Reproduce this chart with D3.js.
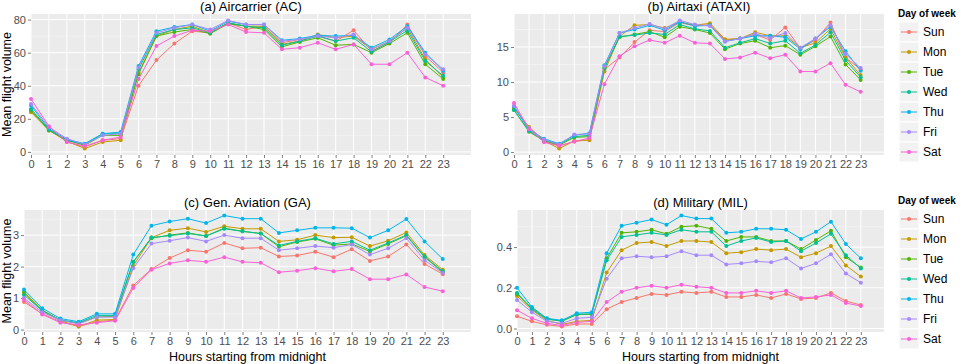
<!DOCTYPE html>
<html>
<head>
<meta charset="utf-8">
<script src="https://cdn.jsdelivr.net/npm/d3@7"></script>
<style>
	body { margin: 0; background: #fff; }
	svg { display: block; font-family: 'Liberation Sans', Arial, sans-serif; }
</style>
</head>
<body>
<div id="app"></div>
<script>
// categories
const days = ['Sun', 'Mon', 'Tue', 'Wed', 'Thu', 'Fri', 'Sat'];
const hours = [0, 1, 2, 3, 4, 5, 6, 7, 8, 9, 10, 11, 12, 13, 14, 15, 16, 17, 18, 19, 20, 21, 22, 23];
const dayColors = ['#F8766D', '#C49A00', '#53B400', '#00C094', '#00B6EB', '#A58AFF', '#FB61D7'];

// mean flight volume per hour, one row per day (Sun..Sat)
const acVolume = [
	[25, 14, 6, 3, 7, 8, 40, 55.5, 65.5, 73, 72, 78, 74, 76, 66, 68, 70, 67, 73.5, 61, 66, 77, 58, 48],
	[24, 13, 6.5, 2, 6, 7, 48, 70, 74, 76, 72, 78, 76, 76, 65, 67, 71, 69, 70, 62, 67, 75, 56, 45],
	[25, 13, 7, 4, 10, 10, 47, 70, 72.5, 74, 71.5, 77.5, 76, 74, 63.5, 66.5, 69, 64.5, 65, 60, 65.5, 72, 53, 44],
	[26, 13.5, 7, 4.5, 11, 11, 50, 71, 74, 75, 72, 78, 76, 75, 64.5, 67, 70, 67, 69, 60.5, 66.5, 73.5, 55, 46],
	[28, 14, 7.5, 5, 11, 12, 52, 73, 75.5, 77, 73, 79, 77, 77, 67.5, 68.5, 70.5, 70, 70.5, 63, 68, 76, 60, 49],
	[29, 15, 8, 4.5, 10, 11, 51, 72, 75, 77, 74, 79.5, 77, 77, 67, 68, 70, 69, 71, 62, 67, 75, 59, 50],
	[32, 15.5, 6, 3.5, 7, 9, 44, 64, 70, 73.5, 73, 77, 72.5, 72, 62, 63, 66, 62, 65, 53, 53, 60, 45, 40]
];
const ataxiVolume = [
	[6.5, 3.2, 1.5, 0.9, 1.5, 1.8, 11.8, 13.5, 15.7, 17.4, 17.2, 18.5, 18.0, 18.2, 16.0, 16.2, 16.8, 16.0, 17.8, 14.8, 16.0, 18.5, 13.5, 11.8],
	[6.2, 3.6, 1.6, 0.5, 1.6, 1.7, 11.5, 16.5, 18.1, 18.2, 17.7, 18.6, 18.1, 18.4, 16.1, 16.2, 17.1, 16.6, 16.6, 14.9, 15.6, 17.6, 13.5, 11.0],
	[6.0, 2.9, 1.6, 1.0, 2.1, 2.2, 12.0, 16.4, 16.8, 17.2, 16.4, 17.9, 17.5, 17.0, 14.7, 15.5, 15.9, 14.9, 15.2, 13.9, 15.1, 16.5, 12.5, 10.3],
	[6.0, 3.0, 1.7, 1.1, 2.2, 2.4, 12.0, 16.5, 16.7, 17.0, 16.8, 18.2, 17.6, 17.3, 14.9, 15.6, 16.2, 15.5, 15.9, 14.1, 15.3, 17.1, 13.1, 10.7],
	[6.5, 3.2, 1.9, 1.2, 2.4, 2.7, 12.4, 17.0, 17.5, 18.1, 17.4, 18.6, 18.0, 18.1, 15.8, 16.2, 16.6, 16.6, 16.4, 14.7, 16.2, 17.9, 14.4, 11.6],
	[6.6, 3.4, 1.8, 1.1, 2.5, 2.6, 12.3, 17.0, 17.7, 18.3, 17.6, 18.8, 18.2, 18.0, 15.8, 16.2, 16.9, 16.3, 17.0, 14.9, 16.2, 18.1, 14.0, 12.0],
	[7.0, 3.3, 1.4, 0.9, 1.5, 2.0, 9.7, 13.7, 15.1, 16.0, 15.6, 16.6, 15.6, 15.5, 13.3, 13.5, 14.2, 13.4, 13.9, 11.5, 11.5, 12.7, 9.6, 8.6]
];
const gaVolume = [
	[0.88, 0.5, 0.25, 0.1, 0.25, 0.3, 1.4, 1.92, 2.27, 2.52, 2.47, 2.75, 2.58, 2.6, 2.32, 2.35, 2.47, 2.3, 2.55, 2.18, 2.32, 2.7, 2.08, 1.76],
	[1.15, 0.6, 0.28, 0.1, 0.3, 0.32, 2.02, 2.92, 3.15, 3.22, 3.1, 3.28, 3.2, 3.2, 2.8, 2.85, 3.0, 2.92, 2.93, 2.65, 2.82, 3.08, 2.37, 1.9],
	[1.2, 0.62, 0.3, 0.2, 0.4, 0.42, 2.15, 2.9, 3.0, 3.07, 2.97, 3.22, 3.12, 3.05, 2.63, 2.78, 2.88, 2.68, 2.72, 2.48, 2.72, 2.98, 2.3, 1.82],
	[1.1, 0.6, 0.3, 0.22, 0.45, 0.45, 2.15, 2.92, 2.98, 3.05, 2.97, 3.2, 3.12, 3.05, 2.67, 2.8, 2.9, 2.72, 2.8, 2.52, 2.75, 3.0, 2.32, 1.85],
	[1.27, 0.68, 0.35, 0.25, 0.5, 0.5, 2.38, 3.3, 3.43, 3.52, 3.38, 3.62, 3.52, 3.52, 3.07, 3.15, 3.23, 3.23, 3.22, 2.92, 3.15, 3.51, 2.8, 2.24],
	[1.0, 0.55, 0.3, 0.18, 0.4, 0.4, 1.95, 2.73, 2.82, 2.92, 2.8, 3.0, 2.9, 2.9, 2.52, 2.58, 2.65, 2.6, 2.7, 2.38, 2.58, 2.9, 2.2, 1.8],
	[0.95, 0.48, 0.22, 0.15, 0.22, 0.28, 1.32, 1.9, 2.1, 2.2, 2.15, 2.3, 2.15, 2.12, 1.82, 1.87, 1.95, 1.85, 1.92, 1.6, 1.6, 1.75, 1.35, 1.22]
];
const milVolume = [
	[0.06, 0.035, 0.018, 0.01, 0.022, 0.022, 0.095, 0.13, 0.15, 0.17, 0.165, 0.18, 0.175, 0.18, 0.155, 0.155, 0.165, 0.15, 0.17, 0.145, 0.15, 0.175, 0.135, 0.115],
	[0.16, 0.09, 0.04, 0.02, 0.035, 0.04, 0.275, 0.385, 0.42, 0.425, 0.405, 0.43, 0.43, 0.425, 0.37, 0.375, 0.39, 0.385, 0.39, 0.35, 0.37, 0.405, 0.31, 0.255],
	[0.17, 0.1, 0.048, 0.035, 0.068, 0.07, 0.345, 0.47, 0.475, 0.485, 0.465, 0.5, 0.505, 0.49, 0.43, 0.45, 0.45, 0.43, 0.43, 0.39, 0.435, 0.48, 0.35, 0.3],
	[0.175, 0.095, 0.045, 0.038, 0.07, 0.072, 0.335, 0.45, 0.46, 0.47, 0.46, 0.485, 0.475, 0.475, 0.405, 0.43, 0.445, 0.425, 0.43, 0.38, 0.42, 0.465, 0.36, 0.295],
	[0.2, 0.105, 0.05, 0.04, 0.075, 0.08, 0.37, 0.505, 0.52, 0.535, 0.51, 0.555, 0.54, 0.54, 0.47, 0.475, 0.49, 0.49, 0.485, 0.44, 0.475, 0.525, 0.415, 0.345],
	[0.14, 0.08, 0.035, 0.025, 0.05, 0.055, 0.245, 0.345, 0.355, 0.35, 0.355, 0.38, 0.36, 0.36, 0.315, 0.32, 0.33, 0.325, 0.345, 0.295, 0.32, 0.365, 0.27, 0.225],
	[0.09, 0.05, 0.025, 0.015, 0.03, 0.035, 0.13, 0.18, 0.2, 0.21, 0.2, 0.215, 0.205, 0.2, 0.175, 0.175, 0.185, 0.175, 0.185, 0.15, 0.155, 0.165, 0.125, 0.11]
];

// tick labels
const acTicks = [0, 20, 40, 60, 80];
const ataxiTicks = [0, 5, 10, 15];
const gaTicks = [0, 1, 2, 3];
const milTicks = [0, 0.2, 0.4];

const width = 960;
const height = 364;

const panels = [
	{ title: '(a) Aircarrier (AC)', values: acVolume, ticks: acTicks, fmt: d3.format('d'), left: 31, right: 471, top: 14, bottom: 155, yTitle: true, xTitle: false },
	{ title: '(b)  Airtaxi (ATAXI)', values: ataxiVolume, ticks: ataxiTicks, fmt: d3.format('d'), left: 514, right: 884, top: 14, bottom: 155, yTitle: false, xTitle: false },
	{ title: '(c) Gen. Aviation (GA)', values: gaVolume, ticks: gaTicks, fmt: d3.format('d'), left: 24, right: 471, top: 210, bottom: 332, yTitle: true, xTitle: true },
	{ title: '(d) Military (MIL)', values: milVolume, ticks: milTicks, fmt: d3.format('.1f'), left: 517, right: 884, top: 210, bottom: 332, yTitle: false, xTitle: true }
];

const svg = d3.create('svg').attr('width', width).attr('height', height).attr('viewBox', [0, 0, width, height]);

panels.forEach((p) => {
	// ggplot style 5% expansion on y
	let ext = d3.extent(p.values.flat());
	let pad = (ext[1] - ext[0]) * 0.05;
	let y = d3.scaleLinear().domain([ext[0] - pad, ext[1] + pad]).range([p.bottom, p.top]);
	let x = d3.scaleLinear().domain([0, 24.55]).range([p.left, p.right]);

	let step = p.ticks[1] - p.ticks[0];
	let minor = p.ticks.map((t) => t + step / 2).filter((t) => t < y.domain()[1]);

	const g = svg.append('g').attr('class', 'panel');

	g.append('rect')
		.attr('x', p.left)
		.attr('y', p.top)
		.attr('width', p.right - p.left)
		.attr('height', p.bottom - p.top)
		.attr('fill', '#EBEBEB');

	// grid
	g.append('g')
		.selectAll('line')
		.data(minor)
		.join('line')
		.attr('x1', p.left)
		.attr('x2', p.right)
		.attr('y1', (d) => y(d))
		.attr('y2', (d) => y(d))
		.attr('stroke', '#F7F7F7')
		.attr('stroke-width', 0.6);
	g.append('g')
		.selectAll('line')
		.data(p.ticks)
		.join('line')
		.attr('x1', p.left)
		.attr('x2', p.right)
		.attr('y1', (d) => y(d))
		.attr('y2', (d) => y(d))
		.attr('stroke', '#fff')
		.attr('stroke-width', 1);
	g.append('g')
		.selectAll('line')
		.data(hours)
		.join('line')
		.attr('x1', (d) => x(d))
		.attr('x2', (d) => x(d))
		.attr('y1', p.top)
		.attr('y2', p.bottom)
		.attr('stroke', '#fff')
		.attr('stroke-width', 1);

	// axes
	const yAxis = g.append('g')
		.attr('transform', `translate(${p.left},0)`)
		.call(d3.axisLeft(y).tickValues(p.ticks).tickFormat(p.fmt).tickSize(3).tickPadding(2));
	const xAxis = g.append('g')
		.attr('transform', `translate(0,${p.bottom})`)
		.call(d3.axisBottom(x).tickValues(hours).tickFormat(d3.format('d')).tickSize(3).tickPadding(2));
	[yAxis, xAxis].forEach((a) => {
		a.select('.domain').remove();
		a.selectAll('.tick line').attr('stroke', '#7F7F7F');
		a.selectAll('.tick text').attr('fill', '#4D4D4D').style('font-size', '11px').style('font-family', "'Liberation Sans', Arial, sans-serif");
	});

	// series
	const series = p.values.map((vals, i) => ({ day: days[i], color: dayColors[i], pts: vals.map((v, h) => [hours[h], v]) }));
	const line = d3.line().x((d) => x(d[0])).y((d) => y(d[1]));

	const sg = g.append('g').selectAll('g').data(series).join('g');
	sg.append('path')
		.attr('d', (d) => line(d.pts))
		.attr('fill', 'none')
		.attr('stroke', (d) => d.color)
		.attr('stroke-width', 1);
	sg.selectAll('circle')
		.data((d) => d.pts.map((pt) => ({ pt, color: d.color })))
		.join('circle')
		.attr('cx', (d) => x(d.pt[0]))
		.attr('cy', (d) => y(d.pt[1]))
		.attr('r', 2)
		.attr('fill', (d) => d.color);

	// titles
	g.append('text')
		.attr('x', (p.left + p.right) / 2)
		.attr('y', p.top - 3)
		.attr('text-anchor', 'middle')
		.style('font-size', '13px')
		.text(p.title);

	if (p.yTitle) {
		g.append('text')
			.attr('transform', `translate(11,${(p.top + p.bottom) / 2}) rotate(-90)`)
			.attr('text-anchor', 'middle')
			.style('font-size', '12.5px')
			.text('Mean flight volume');
	}
	if (p.xTitle) {
		g.append('text')
			.attr('x', (p.left + p.right) / 2)
			.attr('y', p.bottom + 29)
			.attr('text-anchor', 'middle')
			.style('font-size', '12.5px')
			.text('Hours starting from midnight');
	}
});

// one legend per row
[84, 271].forEach((cy) => {
	const lg = svg.append('g').attr('transform', `translate(898,${cy - 71})`);
	lg.append('text')
		.attr('x', 0)
		.attr('y', 4)
		.style('font-size', '10px')
		.style('font-weight', 'bold')
		.text('Day of week');
	const key = lg.selectAll('g.key')
		.data(days)
		.join('g')
		.attr('class', 'key')
		.attr('transform', (d, i) => `translate(1,${19 + i * 20})`);
	key.append('rect')
		.attr('x', 0)
		.attr('y', -10)
		.attr('width', 20)
		.attr('height', 20)
		.attr('fill', '#F2F2F2')
		.attr('stroke', '#fff')
		.attr('stroke-width', 1);
	key.append('line')
		.attr('x1', 2)
		.attr('x2', 18)
		.attr('stroke', (d, i) => dayColors[i])
		.attr('stroke-width', 1);
	key.append('circle')
		.attr('cx', 10)
		.attr('r', 2)
		.attr('fill', (d, i) => dayColors[i]);
	key.append('text')
		.attr('x', 24)
		.attr('y', 4)
		.style('font-size', '12px')
		.text((d) => d);
});

document.getElementById('app').append(svg.node());
</script>
</body>
</html>
